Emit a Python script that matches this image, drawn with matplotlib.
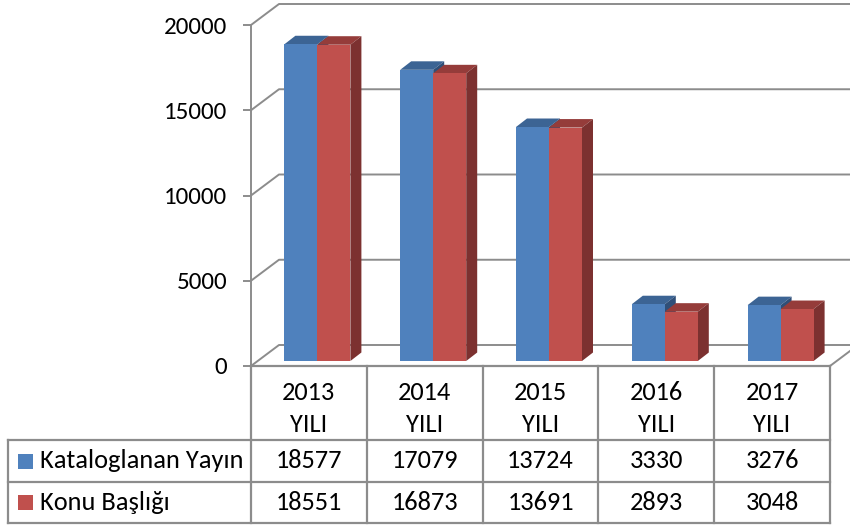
import matplotlib
matplotlib.use("Agg")
import matplotlib.pyplot as plt
from matplotlib import font_manager
from matplotlib.patches import Polygon, Rectangle

# data
years = ["2013", "2014", "2015", "2016", "2017"]
year_suffix = "YILI"
series_names = ["Kataloglanan Yayın", "Konu Başlığı"]
kataloglanan = [18577, 17079, 13724, 3330, 3276]
konu = [18551, 16873, 13691, 2893, 3048]
yticks = [0, 5000, 10000, 15000, 20000]

names = {f.name for f in font_manager.fontManager.ttflist}
font = next((n for n in ["Carlito", "Lato", "Open Sans"] if n in names), "DejaVu Sans")
plt.rcParams["font.family"] = [font, "DejaVu Sans"]

front_colors = ["#4f81bd", "#c0504d"]
top_colors = ["#3c6494", "#953c3a"]
side_colors = ["#2f4f78", "#7c3130"]
grid_color = "#8c8c8c"

W, Hpx = 850, 528
fig = plt.figure(figsize=(W / 100, Hpx / 100), dpi=100)

# front plane of the plot in pixels
x0, x1 = 251, 830
y0, y1 = 366, 25
ax = fig.add_axes([x0 / W, (Hpx - y0) / Hpx, (x1 - x0) / W, (y0 - y1) / Hpx])
n = len(years)
ax.set_xlim(0, n)
ax.set_ylim(0, 20000)
px_x = (x1 - x0) / n
px_y = (y0 - y1) / 20000

# wall depth, bar offset and size (pixels -> data)
D, H = 28 / px_x, 21 / px_y
ox, oy = 8.5 / px_x, 5 / px_y
bw = 33 / px_x
bdx, bdy = 11 / px_x, 8.5 / px_y

for v in yticks:
    ax.plot([0, D, n + D + 1], [v, v + H, v + H], color=grid_color, lw=1.4,
            clip_on=False, zorder=1)
ax.plot([n, n + D], [0, H], color=grid_color, lw=1.4, clip_on=False, zorder=1)

for s, vals in enumerate([kataloglanan, konu]):
    lefts = [i + 0.5 - bw + ox + s * bw for i in range(n)]
    z = 2 + 2 * s
    for xl, v in zip(lefts, vals):
        top = oy + v
        ax.add_patch(Polygon([(xl, top), (xl + bw, top), (xl + bw + bdx, top + bdy),
                              (xl + bdx, top + bdy)], closed=True,
                             facecolor=top_colors[s], edgecolor="none", zorder=z))
        ax.add_patch(Polygon([(xl + bw, oy), (xl + bw + bdx, oy + bdy),
                              (xl + bw + bdx, top + bdy), (xl + bw, top)], closed=True,
                             facecolor=side_colors[s], edgecolor="none", zorder=z))
    ax.bar(lefts, vals, width=bw, bottom=oy, align="edge", color=front_colors[s],
           zorder=z + 1)

for sp in ["top", "right", "bottom"]:
    ax.spines[sp].set_visible(False)
ax.spines["left"].set_color(grid_color)
ax.spines["left"].set_linewidth(1.4)
ax.set_xticks([])
ax.set_yticks(yticks)
ax.set_yticklabels([str(t) for t in yticks])
ax.tick_params(axis="y", length=6, width=1.4, color=grid_color, pad=11,
               labelsize=18)

# data table below the plot
tx0, ty1 = 8, 523
tax = fig.add_axes([tx0 / W, (Hpx - ty1) / Hpx, (x1 - tx0) / W, (ty1 - y0) / Hpx])
L = (x0 - tx0) / px_x
tax.set_xlim(-L, n)
tax.set_ylim(ty1 - y0, 0)
tax.axis("off")
r1, r2, r3 = 74, 116, ty1 - y0
lkw = dict(color=grid_color, lw=1.6, clip_on=False, solid_capstyle="projecting")
tax.plot([0, n], [0, 0], **lkw)
for r in [r1, r2, r3]:
    tax.plot([-L, n], [r, r], **lkw)
tax.plot([-L, -L], [r1, r3], **lkw)
for i in range(n + 1):
    tax.plot([i, i], [0, r3], **lkw)

fs = 19
for i, yr in enumerate(years):
    tax.text(i + 0.5, 26.5, yr, ha="center", va="center", fontsize=fs)
    tax.text(i + 0.5, 58, year_suffix, ha="center", va="center", fontsize=fs)
for r, vals in zip([(r1 + r2) / 2, (r2 + r3) / 2], [kataloglanan, konu]):
    for i, v in enumerate(vals):
        tax.text(i + 0.5, r, str(v), ha="center", va="center", fontsize=fs)
for s, (r, name) in enumerate(zip([(r1 + r2) / 2, (r2 + r3) / 2], series_names)):
    tax.add_patch(Rectangle(((18 - x0) / px_x, r - 7.5), 15 / px_x, 15,
                            facecolor=front_colors[s], edgecolor="none", clip_on=False))
    tax.text((40 - x0) / px_x, r, name, ha="left", va="center", fontsize=fs)

fig.savefig("out.png", dpi=100)
